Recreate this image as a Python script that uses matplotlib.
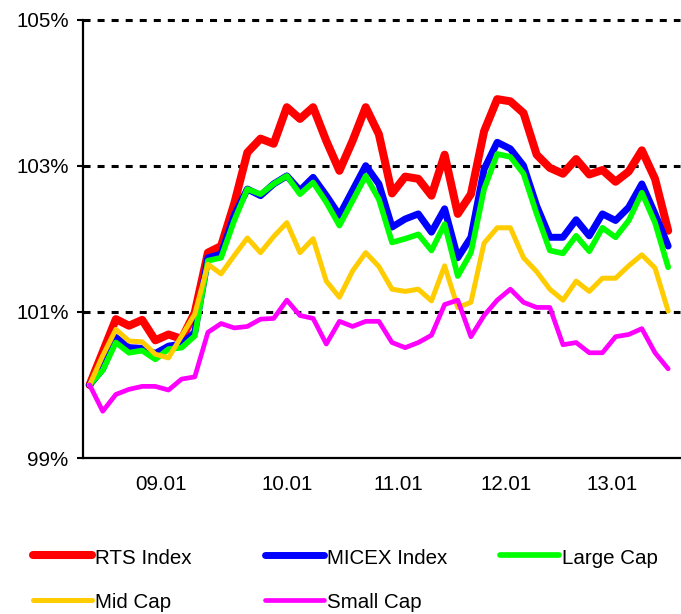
import numpy as np
import matplotlib
matplotlib.use("Agg")
import matplotlib.pyplot as plt
from matplotlib.lines import Line2D

plt.rcParams["font.family"] = ["Liberation Sans", "DejaVu Sans"]

# ---------------- data (index level, %) ----------------
rts = [100.00, 100.45, 100.90, 100.81, 100.89, 100.61, 100.69, 100.63, 100.99, 101.81,
       101.90, 102.48, 103.18, 103.37, 103.30, 103.80, 103.64, 103.80, 103.34, 102.93,
       103.34, 103.80, 103.43, 102.62, 102.85, 102.82, 102.59, 103.15, 102.34, 102.61,
       103.47, 103.91, 103.88, 103.72, 103.15, 102.97, 102.89, 103.09, 102.88, 102.94,
       102.78, 102.92, 103.21, 102.82, 102.11]
micex = [100.00, 100.22, 100.65, 100.51, 100.50, 100.43, 100.53, 100.56, 100.72, 101.74,
         101.79, 102.32, 102.68, 102.59, 102.75, 102.86, 102.66, 102.84, 102.59, 102.32,
         102.66, 103.00, 102.75, 102.16, 102.27, 102.34, 102.09, 102.41, 101.74, 102.02,
         102.95, 103.32, 103.23, 103.00, 102.45, 102.02, 102.02, 102.26, 102.04, 102.34,
         102.25, 102.43, 102.75, 102.34, 101.90]
large_cap = [100.00, 100.20, 100.58, 100.44, 100.47, 100.35, 100.49, 100.51, 100.67, 101.70,
             101.74, 102.25, 102.68, 102.61, 102.75, 102.86, 102.61, 102.77, 102.50, 102.18,
             102.52, 102.86, 102.54, 101.95, 102.00, 102.06, 101.84, 102.20, 101.49, 101.81,
             102.68, 103.16, 103.12, 102.89, 102.34, 101.84, 101.80, 102.04, 101.83, 102.15,
             102.02, 102.25, 102.63, 102.22, 101.61]
mid_cap = [100.00, 100.40, 100.76, 100.60, 100.59, 100.42, 100.37, 100.67, 100.97, 101.65,
           101.52, 101.77, 102.01, 101.81, 102.03, 102.22, 101.81, 102.00, 101.42, 101.20,
           101.56, 101.81, 101.62, 101.31, 101.28, 101.31, 101.15, 101.63, 101.06, 101.13,
           101.94, 102.15, 102.15, 101.74, 101.55, 101.31, 101.16, 101.42, 101.28, 101.46,
           101.46, 101.63, 101.78, 101.60, 101.01]
small_cap = [100.00, 99.64, 99.87, 99.94, 99.98, 99.98, 99.93, 100.08, 100.11, 100.72,
             100.84, 100.78, 100.80, 100.90, 100.91, 101.16, 100.95, 100.91, 100.56, 100.87,
             100.80, 100.87, 100.87, 100.58, 100.51, 100.58, 100.68, 101.10, 101.16, 100.66,
             100.95, 101.16, 101.31, 101.13, 101.06, 101.06, 100.55, 100.58, 100.44, 100.44,
             100.66, 100.69, 100.77, 100.44, 100.22]

series_names = ["RTS Index", "MICEX Index", "Large Cap", "Mid Cap", "Small Cap"]
x_labels = ["09.01", "10.01", "11.01", "12.01", "13.01"]
y_ticks = [99, 101, 103, 105]

# ---------------- styling ----------------
colors = ["#FF0000", "#0000FF", "#00FF00", "#FFCC00", "#FF00FF"]
widths = [5.8, 5.0, 4.1, 3.6, 3.4]
FS = 14.8
W, H = 681, 614

fig = plt.figure(figsize=(W / 100, H / 100), dpi=100)
ax = fig.add_axes([83 / W, (H - 458) / H, (680 - 83) / W, (458 - 19.5) / H])

x = np.arange(len(rts))
for y, c, lw in zip([rts, micex, large_cap, mid_cap, small_cap], colors, widths):
    ax.plot(x, y, color=c, lw=lw, solid_joinstyle="round", solid_capstyle="round")

for level in y_ticks[1:]:
    ax.axhline(level, color="black", lw=2.2, ls=(0, (2.3, 2.3)), zorder=0, clip_on=False)

ax.set_xlim(-0.5, 44.9)
ax.set_ylim(99, 105)
ax.set_yticks(y_ticks)
ax.set_yticklabels([f"{v}%" for v in y_ticks], fontsize=FS)
ax.set_xticks([5.4, 15.05, 23.45, 31.7, 39.75])
ax.set_xticklabels(x_labels, fontsize=FS)
ax.tick_params(axis="y", direction="out", length=4.3, width=1.5, pad=6)
ax.tick_params(axis="x", length=0, pad=12)
for s in ["top", "right"]:
    ax.spines[s].set_visible(False)
for s in ["left", "bottom"]:
    ax.spines[s].set_linewidth(1.6)

# ---- legend, laid out in rows like the original ----
col_x = [33, 265, 500]
row_y = [555, 600]
for k, (name, c, lw) in enumerate(zip(series_names, colors, widths)):
    r, cidx = divmod(k, 3)
    x0 = col_x[cidx]
    y0 = row_y[r]
    fig.add_artist(Line2D([x0 / W, (x0 + 59) / W], [(H - y0) / H] * 2,
                          color=c, lw=lw, solid_capstyle="round",
                          transform=fig.transFigure))
    fig.text((x0 + 62) / W, (H - y0 - 3) / H, name, fontsize=FS, va="center", ha="left")

fig.savefig("out.png", dpi=100)
